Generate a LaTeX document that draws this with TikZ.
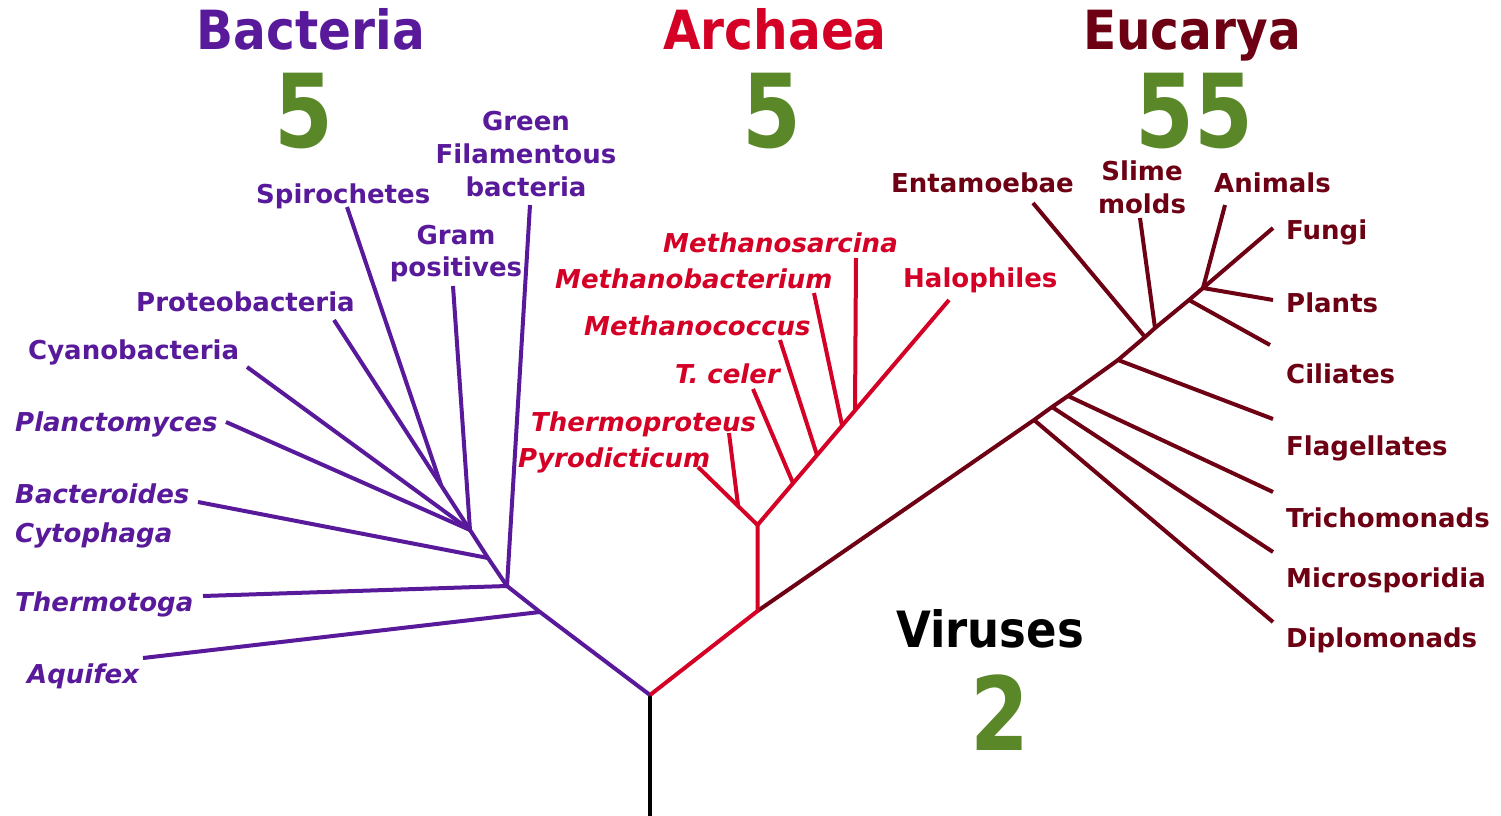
\documentclass[tikz,border=0pt]{standalone}
\usepackage{fontspec}
\setmainfont{DejaVu Sans}[BoldFont={DejaVu Sans Bold},ItalicFont={DejaVu Sans Oblique},BoldItalicFont={DejaVu Sans Bold Oblique}]
\newfontfamily\condfam{DejaVu Sans}[FakeStretch=0.9,BoldFont={DejaVu Sans Bold}]
\newfontfamily\condnum{DejaVu Sans Bold}[FakeStretch=0.83]
\definecolor{bact}{RGB}{88,26,154}
\definecolor{arch}{RGB}{212,0,38}
\definecolor{euc}{RGB}{110,0,20}
\definecolor{numg}{RGB}{90,135,40}
\begin{document}
\begin{tikzpicture}[x=1pt,y=-1pt,
  br/.style={line width=4pt},
  lab/.style={font=\fontsize{26}{31}\selectfont\bfseries, inner sep=0pt, anchor=base west},
  clab/.style={lab, anchor=base},
  ilab/.style={lab, font=\fontsize{26}{31}\selectfont\bfseries\itshape},
  title/.style={font=\condfam\fontsize{54}{62}\selectfont\bfseries, inner sep=0pt, anchor=base},
  num/.style={font=\condnum\fontsize{102}{120}\selectfont, inner sep=0pt, anchor=base, text=numg, text depth=0pt}]
\useasboundingbox (0,0) rectangle (1501,816);
\fill[white] (0,0) rectangle (1501,816);

% ---------- coordinates ----------
\coordinate (R) at (650,695);
\coordinate (Rb) at (650,816);
% Bacteria
\coordinate (b1) at (540,612);
\coordinate (b2) at (507,586);
\coordinate (b3) at (488,558);
\coordinate (b4) at (470,530);
\coordinate (b5) at (441,485);
\coordinate (tAq) at (143,658);
\coordinate (tTh) at (203,596);
\coordinate (tGF) at (530,205);
\coordinate (tBa) at (198,502);
\coordinate (tGP) at (453,286);
\coordinate (tPl) at (226,422);
\coordinate (tCy) at (247,367);
\coordinate (tPr) at (334,320);
\coordinate (tSp) at (347,207);
% Archaea
\coordinate (a0) at (757.5,611);
\coordinate (a1) at (757.5,525);
\coordinate (aPy) at (698,467);
\coordinate (aTp) at (738,505);
\coordinate (tTp) at (729,433);
\coordinate (aH) at (949,300);
\coordinate (aTc) at (793,483);
\coordinate (tTc) at (753,389);
\coordinate (aMc) at (817,455);
\coordinate (tMc) at (780,340);
\coordinate (aMb) at (842,425);
\coordinate (tMb) at (814,293);
\coordinate (aMs) at (855,411);
\coordinate (tMs) at (856,258);
% Eucarya
\coordinate (e1) at (1034,420);
\coordinate (e2) at (1052,407);
\coordinate (e3) at (1068,396);
\coordinate (e4) at (1118,360);
\coordinate (e5) at (1145,337);
\coordinate (e6) at (1155,328);
\coordinate (e7) at (1189,300);
\coordinate (e8) at (1203,288);
\coordinate (tFu) at (1273,228);
\coordinate (tDi) at (1273,622);
\coordinate (tMi) at (1273,552);
\coordinate (tTr) at (1273,492);
\coordinate (tFl) at (1273,419);
\coordinate (tEn) at (1033,203);
\coordinate (tSl) at (1140,218);
\coordinate (tCi) at (1270,345);
\coordinate (tAn) at (1225,205);
\coordinate (tPa) at (1273,300);

% ---------- branches ----------
\draw[br, black] (R) -- (Rb);
\begin{scope}[br, draw=bact]
  \draw (R) -- (b1) -- (b2) -- (b3) -- (b4);
  \draw (b1) -- (tAq);
  \draw (b2) -- (tTh);
  \draw (b2) -- (tGF);
  \draw (b3) -- (tBa);
  \draw (b4) -- (tGP);
  \draw (b4) -- (tPl);
  \draw (b4) -- (tCy);
  \draw (b4) -- (tPr);
  \draw (b5) -- (tSp);
\end{scope}
\begin{scope}[br, draw=euc]
  \draw (a0) -- (e1) -- (e2) -- (e3) -- (e4) -- (e5) -- (e6) -- (e7) -- (e8) -- (tFu);
  \draw (e1) -- (tDi);
  \draw (e2) -- (tMi);
  \draw (e3) -- (tTr);
  \draw (e4) -- (tFl);
  \draw (e5) -- (tEn);
  \draw (e6) -- (tSl);
  \draw (e7) -- (tCi);
  \draw (e8) -- (tAn);
  \draw (e8) -- (tPa);
\end{scope}
\begin{scope}[br, draw=arch]
  \draw (R) -- (a0) -- (a1);
  \draw (a1) -- (aPy);
  \draw (aTp) -- (tTp);
  \draw (a1) -- (aH);
  \draw (aTc) -- (tTc);
  \draw (aMc) -- (tMc);
  \draw (aMb) -- (tMb);
  \draw (aMs) -- (tMs);
\end{scope}

% ---------- titles & numbers ----------
\node[title, text=bact] (tB) at (311,50) {Bacteria};
\node[title, text=arch] (tA) at (775,50) {Archaea};
\node[title, text=euc] (tE) at (1192,50) {Eucarya};
\node[num] (nB) at (304,147) {5};
\node[num] (nA) at (772,147) {5};
\node[num] (nE) at (1194,147) {55};
\node[font=\condfam\fontsize{50}{60}\selectfont\bfseries, inner sep=0pt, anchor=base] (tV) at (990,647) {Viruses};
\node[num] (nV) at (1000,750) {2};

% ---------- Bacteria labels ----------
\begin{scope}[text=bact]
\node[clab] (lG1) at (526,130) {Green};
\node[clab] (lG2) at (526,163) {Filamentous};
\node[clab] (lG3) at (526,196) {bacteria};
\node[clab] (lGp1) at (456,244) {Gram};
\node[clab] (lGp2) at (456,276) {positives};
\node[lab] (lSp) at (256,203) {Spirochetes};
\node[lab] (lPr) at (136,311) {Proteobacteria};
\node[lab] (lCy) at (28,359) {Cyanobacteria};
\node[ilab] (lPl) at (15,431) {Planctomyces};
\node[ilab] (lBa) at (15,503) {Bacteroides};
\node[ilab] (lCt) at (15,542) {Cytophaga};
\node[ilab] (lTh) at (15,611) {Thermotoga};
\node[ilab] (lAq) at (27,683) {Aquifex};
\end{scope}

% ---------- Archaea labels ----------
\begin{scope}[text=arch]
\node[ilab] (lMs) at (663,252) {Methanosarcina};
\node[ilab] (lMb) at (555,288) {Methanobacterium};
\node[ilab] (lMc) at (584,335) {Methanococcus};
\node[ilab] (lTc) at (675,383) {T. celer};
\node[ilab] (lTp) at (531,431) {Thermoproteus};
\node[ilab] (lPy) at (518,467) {Pyrodicticum};
\node[lab] (lHa) at (903,287) {Halophiles};
\end{scope}

% ---------- Eucarya labels ----------
\begin{scope}[text=euc]
\node[lab] (lEn) at (891,192) {Entamoebae};
\node[clab] (lSl1) at (1142,180) {Slime};
\node[clab] (lSl2) at (1142,213) {molds};
\node[lab] (lAn) at (1214,192) {Animals};
\node[lab] (lFu) at (1286,239) {Fungi};
\node[lab] (lPa) at (1286,312) {Plants};
\node[lab] (lCi) at (1286,383) {Ciliates};
\node[lab] (lFl) at (1286,455) {Flagellates};
\node[lab] (lTr) at (1286,527) {Trichomonads};
\node[lab] (lMi) at (1286,587) {Microsporidia};
\node[lab] (lDi) at (1286,647) {Diplomonads};
\end{scope}
\end{tikzpicture}
\end{document}
